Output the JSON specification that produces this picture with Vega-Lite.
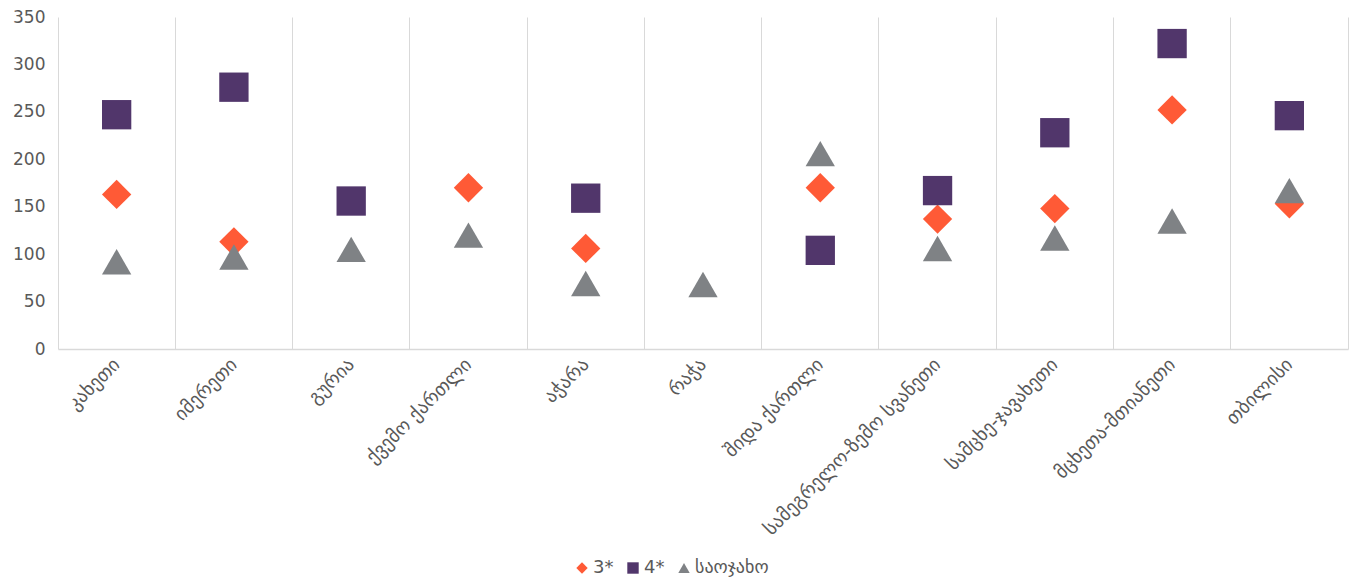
{
  "$schema": "https://vega.github.io/schema/vega-lite/v6.json",
  "width": 1290,
  "height": 332,
  "autosize": {"type": "none"},
  "padding": {"left": 58, "top": 17, "right": 4, "bottom": 231},
  "background": "white",
  "title": {
    "text": "სასტუმროების საშუალო ფასი (2022 წლის, ლარი)",
    "font": "DejaVu Sans",
    "fontSize": 20,
    "fontWeight": "bold",
    "color": "#595959",
    "anchor": "middle",
    "baseline": "bottom",
    "offset": 12
  },
  "config": {
    "view": {"stroke": null},
    "font": "DejaVu Sans"
  },
  "data": {
    "values": [
      {"region": "კახეთი", "series": "3*", "value": 163},
      {"region": "იმერეთი", "series": "3*", "value": 113},
      {"region": "ქვემო ქართლი", "series": "3*", "value": 170},
      {"region": "აჭარა", "series": "3*", "value": 106},
      {"region": "შიდა ქართლი", "series": "3*", "value": 170},
      {"region": "სამეგრელო-ზემო სვანეთი", "series": "3*", "value": 137},
      {"region": "სამცხე-ჯავახეთი", "series": "3*", "value": 148},
      {"region": "მცხეთა-მთიანეთი", "series": "3*", "value": 252},
      {"region": "თბილისი", "series": "3*", "value": 153},
      {"region": "კახეთი", "series": "4*", "value": 247},
      {"region": "იმერეთი", "series": "4*", "value": 276},
      {"region": "გურია", "series": "4*", "value": 156},
      {"region": "აჭარა", "series": "4*", "value": 159},
      {"region": "შიდა ქართლი", "series": "4*", "value": 104},
      {"region": "სამეგრელო-ზემო სვანეთი", "series": "4*", "value": 167},
      {"region": "სამცხე-ჯავახეთი", "series": "4*", "value": 228},
      {"region": "მცხეთა-მთიანეთი", "series": "4*", "value": 322},
      {"region": "თბილისი", "series": "4*", "value": 246},
      {"region": "კახეთი", "series": "საოჯახო", "value": 92},
      {"region": "იმერეთი", "series": "საოჯახო", "value": 97},
      {"region": "გურია", "series": "საოჯახო", "value": 105},
      {"region": "ქვემო ქართლი", "series": "საოჯახო", "value": 120},
      {"region": "აჭარა", "series": "საოჯახო", "value": 69},
      {"region": "რაჭა", "series": "საოჯახო", "value": 68},
      {"region": "შიდა ქართლი", "series": "საოჯახო", "value": 206},
      {"region": "სამეგრელო-ზემო სვანეთი", "series": "საოჯახო", "value": 106},
      {"region": "სამცხე-ჯავახეთი", "series": "საოჯახო", "value": 117},
      {"region": "მცხეთა-მთიანეთი", "series": "საოჯახო", "value": 135},
      {"region": "თბილისი", "series": "საოჯახო", "value": 167}
    ]
  },
  "resolve": {"axis": {"y": "independent"}},
  "encoding": {
    "x": {
      "field": "region",
      "type": "nominal",
      "sort": ["კახეთი", "იმერეთი", "გურია", "ქვემო ქართლი", "აჭარა", "რაჭა", "შიდა ქართლი", "სამეგრელო-ზემო სვანეთი", "სამცხე-ჯავახეთი", "მცხეთა-მთიანეთი", "თბილისი"],
      "scale": {"type": "band", "paddingInner": 0, "paddingOuter": 0},
      "axis": {
        "title": null,
        "grid": true,
        "gridColor": "#d9d9d9",
        "gridWidth": 1,
        "bandPosition": 0,
        "ticks": false,
        "domain": true,
        "domainColor": "#d9d9d9",
        "domainWidth": 1.3,
        "labelAngle": -45,
        "labelAlign": "right",
        "labelBaseline": "middle",
        "labelFont": "DejaVu Sans",
        "labelFontSize": 19,
        "labelColor": "#595959",
        "labelPadding": 12,
        "labelLimit": 400
      }
    }
  },
  "layer": [
    {
      "mark": {"type": "point", "filled": true, "opacity": 1, "size": 860},
      "encoding": {
        "y": {
          "field": "value",
          "type": "quantitative",
          "scale": {"domain": [0, 350], "nice": false, "zero": true},
          "axis": {
            "title": null,
            "values": [0, 50, 100, 150, 200, 250, 300, 350],
            "grid": false,
            "ticks": false,
            "domain": false,
            "labelFont": "DejaVu Sans",
            "labelFontSize": 17,
            "labelColor": "#595959",
            "labelPadding": 13
          }
        },
        "shape": {
          "field": "series",
          "type": "nominal",
          "scale": {"domain": ["3*", "4*", "საოჯახო"], "range": ["diamond", "square", "triangle-up"]},
          "legend": {
            "title": null,
            "orient": "none",
            "direction": "horizontal",
            "legendX": 515,
            "legendY": 542,
            "labelFont": "DejaVu Sans",
            "labelFontSize": 18,
            "labelColor": "#595959",
            "symbolSize": 130,
            "labelOffset": 2,
            "columnPadding": 10,
            "symbolStrokeWidth": 0
          }
        },
        "color": {
          "field": "series",
          "type": "nominal",
          "scale": {"domain": ["3*", "4*", "საოჯახო"], "range": ["#FF5A36", "#51366B", "#7F8285"]},
          "legend": {
            "title": null,
            "orient": "none",
            "direction": "horizontal",
            "legendX": 515,
            "legendY": 542,
            "labelFont": "DejaVu Sans",
            "labelFontSize": 18,
            "labelColor": "#595959",
            "symbolSize": 130,
            "labelOffset": 2,
            "columnPadding": 10,
            "symbolStrokeWidth": 0
          }
        }
      }
    },
    {
      "mark": {"type": "point", "opacity": 0},
      "encoding": {
        "y": {
          "field": "value",
          "type": "quantitative",
          "axis": {
            "orient": "right",
            "title": null,
            "labels": false,
            "ticks": false,
            "grid": false,
            "domain": true,
            "domainColor": "#d9d9d9",
            "domainWidth": 1
          }
        }
      }
    }
  ]
}
